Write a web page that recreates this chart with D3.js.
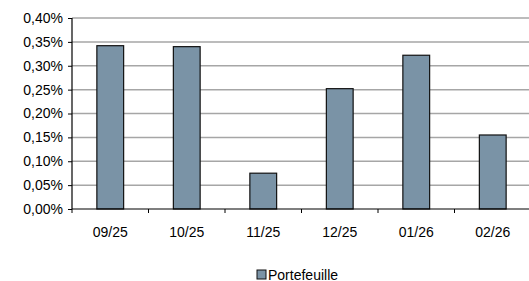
<!DOCTYPE html>
<html>
<head>
<meta charset="utf-8">
<script src="https://cdn.jsdelivr.net/npm/d3@7"></script>
<style>
  body { margin: 0; background: #fff; }
  text { font-family: "Liberation Sans", Arial, sans-serif; fill: #000; }
</style>
</head>
<body>
<svg id="chart" width="529" height="281"></svg>
<script>
// data
var months = ["09/25", "10/25", "11/25", "12/25", "01/26", "02/26"];
var portefeuille = [0.00342, 0.00340, 0.00075, 0.00252, 0.00322, 0.00155];
var yTicks = [0, 0.0005, 0.001, 0.0015, 0.002, 0.0025, 0.003, 0.0035, 0.004];
var seriesName = "Portefeuille";

var svg = d3.select("#chart");
var margin = { left: 72, right: -2, top: 18, bottom: 72 };
var width = 529 - margin.left - margin.right;
var height = 281 - margin.top - margin.bottom;

var g = svg.append("g").attr("transform", "translate(" + margin.left + "," + margin.top + ")");

var x = d3.scaleBand().domain(months).range([0, width]).paddingInner(0.65).paddingOuter(0.325);
var y = d3.scaleLinear().domain([0, 0.004]).range([height, 0]);

// format like "0,35%"
var fmt = d => (d * 100).toFixed(2).replace(".", ",") + "%";

// gridlines
g.selectAll(".grid")
    .data(yTicks.slice(1))
    .join("line")
    .attr("x1", 0).attr("x2", width)
    .attr("y1", d => y(d)).attr("y2", d => y(d))
    .attr("stroke", "#a6a6a6")
    .attr("stroke-width", 1.5);

// bars
g.selectAll(".bar")
    .data(portefeuille)
    .join("rect")
    .attr("x", (d, i) => x(months[i]))
    .attr("y", d => y(d))
    .attr("width", x.bandwidth())
    .attr("height", d => height - y(d))
    .attr("fill", "#7a93a6")
    .attr("stroke", "#111")
    .attr("stroke-width", 1.2);

// y axis
var yAxis = g.append("g").call(d3.axisLeft(y).tickValues(yTicks).tickFormat(fmt).tickSize(4).tickPadding(5));
yAxis.select(".domain").attr("stroke", "#000").attr("stroke-width", 1.2).attr("d", "M0," + height + "V0");
yAxis.selectAll(".tick line").attr("stroke", "#000");
yAxis.selectAll("text").style("font-size", "14px").style("font-family", "Liberation Sans, Arial, sans-serif");

// x axis: ticks between categories
var xAxis = g.append("g").attr("transform", "translate(0," + height + ")");
xAxis.append("line").attr("x1", 0).attr("x2", width).attr("stroke", "#000").attr("stroke-width", 1.2);
var step = x.step();
xAxis.selectAll(".xt")
    .data(d3.range(months.length + 1))
    .join("line")
    .attr("x1", d => d * step).attr("x2", d => d * step)
    .attr("y1", 0).attr("y2", 4)
    .attr("stroke", "#000");
xAxis.selectAll(".xl")
    .data(months)
    .join("text")
    .attr("x", d => x(d) + x.bandwidth() / 2)
    .attr("y", 28)
    .attr("text-anchor", "middle")
    .style("font-size", "14px")
    .text(d => d);

// legend
var legend = svg.append("g").attr("transform", "translate(257,270)");
legend.append("rect").attr("width", 9).attr("height", 9)
    .attr("fill", "#7a93a6").attr("stroke", "#111").attr("stroke-width", 1);
legend.append("text").attr("x", 11).attr("y", 9.5).style("font-size", "14px").text(seriesName);
</script>
</body>
</html>
